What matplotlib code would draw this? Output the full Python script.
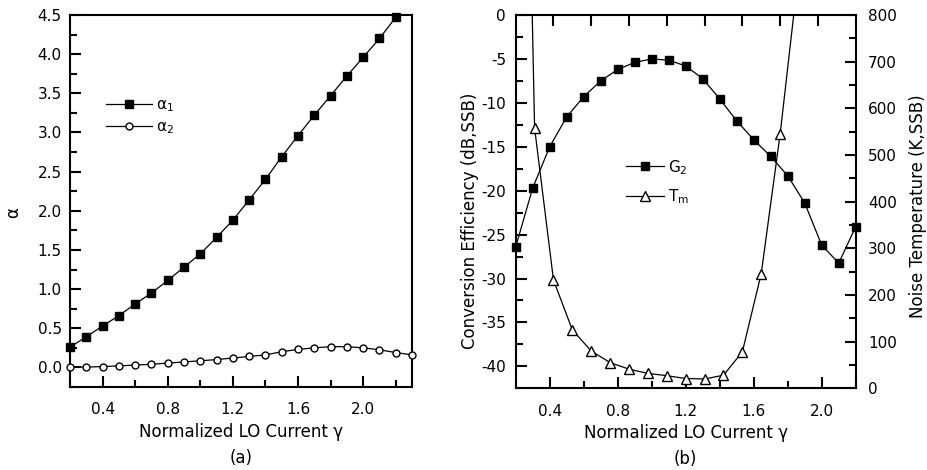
import numpy as np
import matplotlib
matplotlib.use('Agg')
import matplotlib.pyplot as plt
from matplotlib.ticker import MultipleLocator

plt.rcParams['font.family'] = ['DejaVu Sans']
plt.rcParams['font.size'] = 11
plt.rcParams['mathtext.fontset'] = 'dejavusans'
plt.rcParams['axes.unicode_minus'] = False

# (a) alpha coefficients vs normalized LO current
gamma_a = [0.2, 0.3, 0.4, 0.5, 0.6, 0.7, 0.8, 0.9, 1.0, 1.1, 1.2,
           1.3, 1.4, 1.5, 1.6, 1.7, 1.8, 1.9, 2.0, 2.1, 2.2, 2.3]
alpha1 = [0.26, 0.39, 0.53, 0.66, 0.81, 0.95, 1.11, 1.28, 1.45, 1.66, 1.88,
          2.14, 2.40, 2.69, 2.96, 3.22, 3.47, 3.72, 3.96, 4.20, 4.47]
alpha2 = [0.0, 0.005, 0.01, 0.02, 0.03, 0.04, 0.055, 0.07, 0.085, 0.10, 0.12,
          0.14, 0.16, 0.20, 0.23, 0.25, 0.265, 0.265, 0.25, 0.225, 0.19, 0.16]

# (b) conversion efficiency and noise temperature
gamma_b = [0.2, 0.3, 0.4, 0.5, 0.6, 0.7, 0.8, 0.9, 1.0, 1.1, 1.2,
           1.3, 1.4, 1.5, 1.6, 1.7, 1.8, 1.9, 2.0, 2.1, 2.2]
g2 = [-26.4, -19.7, -15.0, -11.6, -9.3, -7.5, -6.2, -5.4, -5.0, -5.15, -5.8,
      -7.25, -9.55, -12.05, -14.2, -16.1, -18.3, -21.4, -26.2, -28.25, -24.1]
# T_m sits on its own x layer (top axis, 0.2 .. 2.0)
gamma_t = [0.2, 0.3, 0.4, 0.5, 0.6, 0.7, 0.8, 0.9, 1.0, 1.1, 1.2,
           1.3, 1.4, 1.5, 1.6, 1.7]
tm = [2500, 558, 232, 125, 80, 55, 41, 32, 27, 21, 20,
      28, 78, 246, 545, 900]

W, H = 928, 470
fig = plt.figure(figsize=(W / 100, H / 100), dpi=100)


def rect(left, top, right, bottom):
    return [left / W, (H - bottom) / H, (right - left) / W, (bottom - top) / H]


def style_spines(ax):
    for s in ax.spines.values():
        s.set_linewidth(1.5)


LABEL_SIZE = 12

# ---- panel (a) ----
ax1 = fig.add_axes(rect(70, 15, 412, 387))
ax1.plot(gamma_a[:len(alpha1)], alpha1, 'k-', lw=0.9, marker='s', ms=5.5,
         clip_on=False, zorder=3, label='α$_1$')
ax1.plot(gamma_a, alpha2, 'k-', lw=0.9, marker='o', ms=5, mfc='white',
         mew=1.0, clip_on=False, zorder=3, label='α$_2$')
ax1.set_xlim(0.2, 2.3)
ax1.set_ylim(-0.25, 4.5)
ax1.set_xticks([0.4, 0.8, 1.2, 1.6, 2.0])
ax1.xaxis.set_minor_locator(MultipleLocator(0.2))
ax1.set_yticks(np.arange(0, 4.51, 0.5))
ax1.yaxis.set_minor_locator(MultipleLocator(0.25))
ax1.tick_params(which='both', direction='in', top=False, right=False, width=1.5)
ax1.tick_params(which='major', length=8)
ax1.tick_params(which='minor', length=5)
ax1.tick_params(axis='x', pad=11)
ax1.tick_params(axis='y', pad=6)
style_spines(ax1)
ax1.set_xlabel('Normalized LO Current γ', fontsize=LABEL_SIZE, labelpad=4)
ax1.set_ylabel('α', fontsize=LABEL_SIZE, va='center')
ax1.yaxis.set_label_coords(-0.167, 0.47)
ax1.legend(loc='center left', bbox_to_anchor=(0.105, 0.727), frameon=False,
           borderpad=0, borderaxespad=0, handlelength=3.0, handletextpad=0.3,
           labelspacing=0.3)
ax1.text(0.5, -0.19, '(a)', transform=ax1.transAxes, ha='center', va='center',
         fontsize=LABEL_SIZE)

# ---- panel (b) ----
rb = rect(515.7, 15, 855.7, 388.3)
ax2 = fig.add_axes(rb)
axT = fig.add_axes(rb, facecolor='none')

l_g2, = ax2.plot(gamma_b, g2, 'k-', lw=0.9, marker='s', ms=5.5,
                 clip_on=False, zorder=3, label='G$_2$')
ax2.set_xlim(0.2, 2.2)
ax2.set_ylim(-42.5, 0)
ax2.set_xticks([0.4, 0.8, 1.2, 1.6, 2.0])
ax2.xaxis.set_minor_locator(MultipleLocator(0.2))
ax2.set_yticks(np.arange(-40, 0.1, 5))
ax2.yaxis.set_minor_locator(MultipleLocator(2.5))
ax2.tick_params(which='both', direction='in', top=False, right=False, width=1.5)
ax2.tick_params(which='major', length=8)
ax2.tick_params(which='minor', length=5)
ax2.tick_params(axis='x', pad=11)
ax2.tick_params(axis='y', pad=7)
style_spines(ax2)
ax2.set_xlabel('Normalized LO Current γ', fontsize=LABEL_SIZE, labelpad=4)
ax2.set_ylabel('Conversion Efficiency (dB,SSB)', fontsize=LABEL_SIZE,
               va='center')
ax2.yaxis.set_label_coords(-0.134, 0.45)
ax2.text(0.5, -0.19, '(b)', transform=ax2.transAxes, ha='center', va='center',
         fontsize=LABEL_SIZE)

l_tm, = axT.plot(gamma_t, tm, 'k-', lw=0.9, marker='^', ms=6.5, mfc='white',
                 mew=1.0, zorder=3, label='T$_{\\mathrm{m}}$')
axT.set_xlim(0.2, 2.0)
axT.set_ylim(0, 800)
axT.xaxis.tick_top()
axT.yaxis.tick_right()
axT.yaxis.set_label_position('right')
axT.set_xticks(np.arange(0.4, 1.81, 0.2))
axT.set_yticks(np.arange(0, 801, 100))
axT.yaxis.set_minor_locator(MultipleLocator(50))
axT.tick_params(which='both', direction='in', width=1.5,
                bottom=False, left=False, labelbottom=False, labelleft=False)
axT.tick_params(axis='x', labeltop=False, length=8)
axT.tick_params(axis='y', which='major', length=8, pad=9)
axT.tick_params(axis='y', which='minor', length=5)
for s in axT.spines.values():
    s.set_visible(False)
axT.set_ylabel('Noise Temperature (K,SSB)', fontsize=LABEL_SIZE, va='center')
axT.yaxis.set_label_coords(1.183, 0.487)
axT.legend(handles=[l_g2, l_tm], loc='center left',
           bbox_to_anchor=(0.3235, 0.553), frameon=False, borderpad=0,
           borderaxespad=0, handlelength=2.5, handletextpad=0.3,
           labelspacing=0.7)

fig.savefig('out.png', dpi=100)
